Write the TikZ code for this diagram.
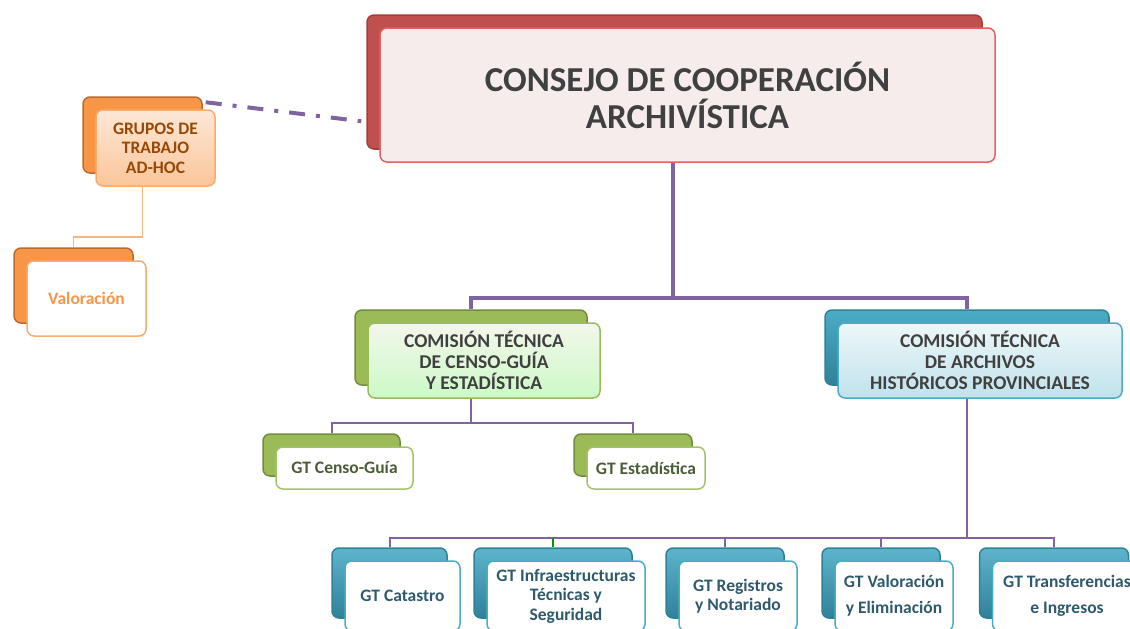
\documentclass[tikz,border=0pt]{standalone}
\usepackage{fontspec}
\setmainfont{Carlito}
\usetikzlibrary{shadows,backgrounds}

\definecolor{rojo}{HTML}{C0504D}
\definecolor{rojoosc}{HTML}{A23F3C}
\definecolor{rojoclaro}{HTML}{E06360}
\definecolor{rosa}{HTML}{F6ECEC}
\definecolor{naranja}{HTML}{F79646}
\definecolor{naranjaosc}{HTML}{BE6A2E}
\definecolor{marron}{HTML}{984806}
\definecolor{verde}{HTML}{9BBB59}
\definecolor{verdeosc}{HTML}{728C3E}
\definecolor{verdetxt}{HTML}{4C5C38}
\definecolor{azul}{HTML}{4BACC6}
\definecolor{azulosc}{HTML}{2F8198}
\definecolor{azultxt}{HTML}{2F5A6B}
\definecolor{morado}{HTML}{8064A2}
\definecolor{gristxt}{HTML}{404040}

\begin{document}
\begin{tikzpicture}[x=1pt, y=-1pt,
    caja/.style={rounded corners=7pt, align=center, inner sep=0pt, line width=1.5pt},
    tras/.style={general shadow={shadow xshift=-13pt, shadow yshift=13pt, #1}},
    cajaroja/.style={caja, draw=rojoclaro, fill=rosa, text=gristxt,
        tras={fill=rojo, draw=rojoosc},
        font=\fontsize{35}{37}\selectfont\bfseries},
    cajanaranja/.style={caja, draw=naranja!80, text=marron,
        tras={fill=naranja, draw=naranjaosc},
        font=\fontsize{17.5}{19.5}\selectfont\bfseries},
    cajaverde/.style={caja, draw=verde, text=gristxt,
        tras={fill=verde, draw=verdeosc},
        font=\fontsize{19.5}{21}\selectfont\bfseries},
    cajaazul/.style={caja, draw=azul, text=gristxt,
        tras={top color=azul, bottom color=azulosc, draw=azulosc},
        font=\fontsize{19.5}{21}\selectfont\bfseries},
    gtverde/.style={caja, draw=verde!90, fill=white, text=verdetxt,
        tras={fill=verde, draw=verdeosc},
        font=\fontsize{17.5}{19}\selectfont\bfseries},
    gtazul/.style={caja, draw=azul, fill=white, text=azultxt,
        tras={top color=azul!90!white, bottom color=azulosc, draw=azulosc},
        font=\fontsize{17.5}{19.5}\selectfont\bfseries},
    tronco/.style={morado, line width=3.5pt},
    rama/.style={morado, line width=2pt},
    enlace/.style={morado, line width=4pt, dash pattern=on 16pt off 11pt on 4pt off 11pt}
  ]
  \useasboundingbox (0,0) rectangle (1130,629);

  \node[cajaroja, minimum width=615pt, minimum height=134pt] (consejo) at (687.5,95)
    {CONSEJO DE COOPERACIÓN\\ARCHIVÍSTICA};

  \node[cajanaranja, top color=naranja!22!white, bottom color=naranja!55!white,
    minimum width=119pt, minimum height=76pt] (grupos) at (155.5,148)
    {GRUPOS DE\\TRABAJO\\AD-HOC};
  \node[cajanaranja, fill=white, text=naranja, minimum width=119pt, minimum height=75pt]
    (valora) at (86.5,298.5) {Valoración};

  \node[cajaverde, top color=verde!12!white, bottom color=verde!30!green!25!white,
    minimum width=232pt, minimum height=75pt] (censo) at (484,360.5)
    {COMISIÓN TÉCNICA\\DE CENSO-GUÍA\\Y ESTADÍSTICA};
  \node[cajaazul, top color=azul!10!white, bottom color=azul!35!white,
    minimum width=284pt, minimum height=75pt] (archivos) at (980,360.5)
    {COMISIÓN TÉCNICA\\DE ARCHIVOS\\HISTÓRICOS PROVINCIALES};

  \node[gtverde, minimum width=137pt, minimum height=42pt] (gtcenso) at (344.5,468) {GT Censo-Guía};
  \node[gtverde, minimum width=118pt, minimum height=42pt] (gtestad) at (646,468) {GT Estadística};

  \node[gtazul, minimum width=115pt, minimum height=70pt] (catastro) at (402.5,596) {GT Catastro};
  \node[gtazul, minimum width=158pt, minimum height=70pt] (infra) at (566,596)
    {GT Infraestructuras\\Técnicas y\\Seguridad};
  \node[gtazul, minimum width=118pt, minimum height=70pt] (registros) at (738,596)
    {GT Registros\\y Notariado};
  \node[gtazul, minimum width=118pt, minimum height=70pt] (valelim) at (894,596)
    {GT Valoración\\[6.5pt]y Eliminación};
  \node[gtazul, minimum width=149pt, minimum height=70pt] (transf) at (1067,596)
    {GT Transferencias\\[6.5pt]e Ingresos};

  \begin{scope}[on background layer]
    \coordinate (nudo1) at (673,298);
    \coordinate (nudo2) at (471,423);
    \coordinate (nudo3) at (967,538);
    \coordinate (nudo4) at (142.5,237);

    \draw[tronco] (consejo.south -| nudo1) -- (nudo1);
    \draw[tronco] ([shift={(-13,-13)}]censo.north) |- (nudo1) -| ([shift={(-13,-13)}]archivos.north);

    \draw[rama] ([shift={(-13,-13)}]censo.south) -- (nudo2);
    \draw[rama] ([shift={(-13,-13)}]gtcenso.north) |- (nudo2) -| ([shift={(-13,-13)}]gtestad.north);

    \draw[rama] ([shift={(-13,-13)}]archivos.south) -- (nudo3);
    \draw[rama] ([shift={(-13,-13)}]catastro.north) |- (nudo3) -| ([shift={(-13,-13)}]transf.north);
    \draw[rama] ([shift={(-13,-13)}]registros.north) |- (nudo3);
    \draw[rama] ([shift={(-13,-13)}]valelim.north) |- (nudo3);
    \path ([shift={(-13,-13)}]infra.north) coordinate (infraT);
    \draw[green!60!black, line width=2pt] (infraT) -- (infraT |- nudo3);

    \draw[naranja!70, line width=1.3pt] ([shift={(-13,-13)}]grupos.south) -- (nudo4)
      -| ([shift={(-13,-13)}]valora.north);
    \draw[enlace] ([shift={(-10,-7)}]grupos.north east) -- ([shift={(-18,94)}]consejo.north west);
  \end{scope}
\end{tikzpicture}
\end{document}
